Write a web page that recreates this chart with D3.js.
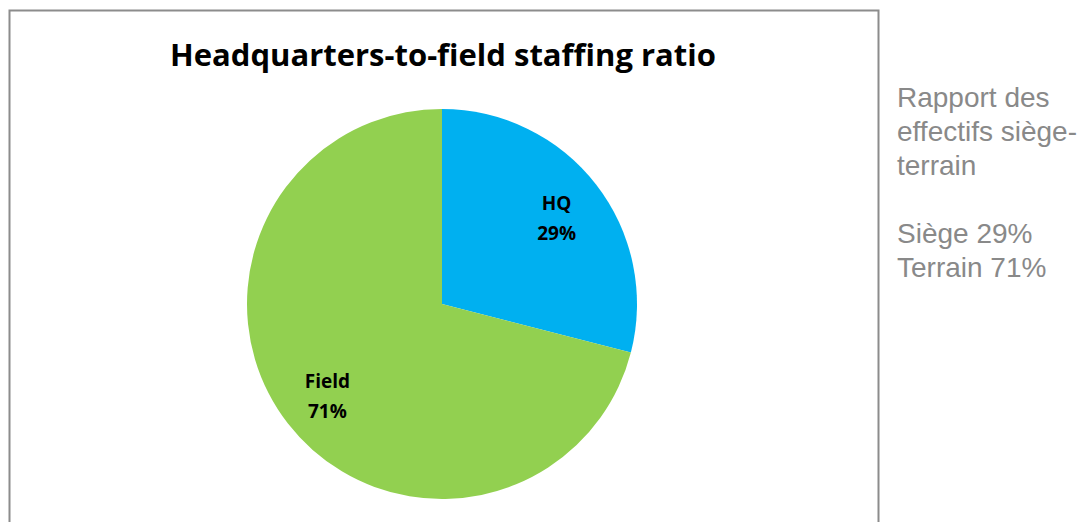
<!DOCTYPE html>
<html>
<head>
<meta charset="utf-8">
<script src="https://cdn.jsdelivr.net/npm/d3@7"></script>
<style>
  body { margin: 0; background: #fff; }
</style>
</head>
<body>
<svg id="chart" width="1088" height="522"></svg>
<script>
var categories = ['HQ', 'Field'];
var shares = [29, 71];
var colours = ['#00B0F0', '#92D050'];
var title = 'Headquarters-to-field staffing ratio';
var sideLines = ['Rapport des', 'effectifs siège-', 'terrain', '', 'Siège 29%', 'Terrain 71%'];

var svg = d3.select('#chart'),
    width = +svg.attr('width'),
    height = +svg.attr('height');

// chart frame, open at the bottom
svg.append('path')
    .attr('d', 'M9.5,' + height + 'V10.5H878.5V' + height)
    .attr('fill', 'none')
    .attr('stroke', '#8c8c8c')
    .attr('stroke-width', 2);

svg.append('text')
    .attr('x', 443)
    .attr('y', 66)
    .attr('text-anchor', 'middle')
    .attr('font-family', 'Open Sans, sans-serif')
    .attr('font-weight', 'bold')
    .attr('font-size', 31)
    .attr('fill', '#000')
    .text(title);

var cx = 442, cy = 304, r = 195;

var data = categories.map(function (c, i) { return { name: c, value: shares[i] }; });

var pie = d3.pie().sort(null).value(function (d) { return d.value; });
var arc = d3.arc().innerRadius(0).outerRadius(r);
var labelArc = d3.arc().innerRadius(145).outerRadius(145);

var color = d3.scaleOrdinal().domain(categories).range(colours);

var g = svg.append('g').attr('transform', 'translate(' + cx + ',' + cy + ')');

var arcs = pie(data);

g.selectAll('path')
    .data(arcs)
    .enter()
    .append('path')
    .attr('d', arc)
    .attr('fill', function (d) { return color(d.data.name); });

var labels = g.selectAll('.lbl')
    .data(arcs)
    .enter()
    .append('text')
    .attr('class', 'lbl')
    .attr('transform', function (d) { return 'translate(' + labelArc.centroid(d) + ')'; })
    .attr('text-anchor', 'middle')
    .attr('font-family', 'Open Sans, sans-serif')
    .attr('font-weight', 'bold')
    .attr('font-size', 19)
    .attr('fill', '#000');

labels.append('tspan').attr('x', 0).attr('dy', -5).text(function (d) { return d.data.name; });
labels.append('tspan').attr('x', 0).attr('dy', 30).text(function (d) { return d.data.value + '%'; });

svg.append('g')
    .selectAll('text')
    .data(sideLines)
    .enter()
    .append('text')
    .attr('x', 897)
    .attr('y', function (d, i) { return 107 + i * 34; })
    .attr('font-family', 'Liberation Sans, Arial, sans-serif')
    .attr('font-size', 28)
    .attr('fill', '#898989')
    .text(function (d) { return d; });
</script>
</body>
</html>
